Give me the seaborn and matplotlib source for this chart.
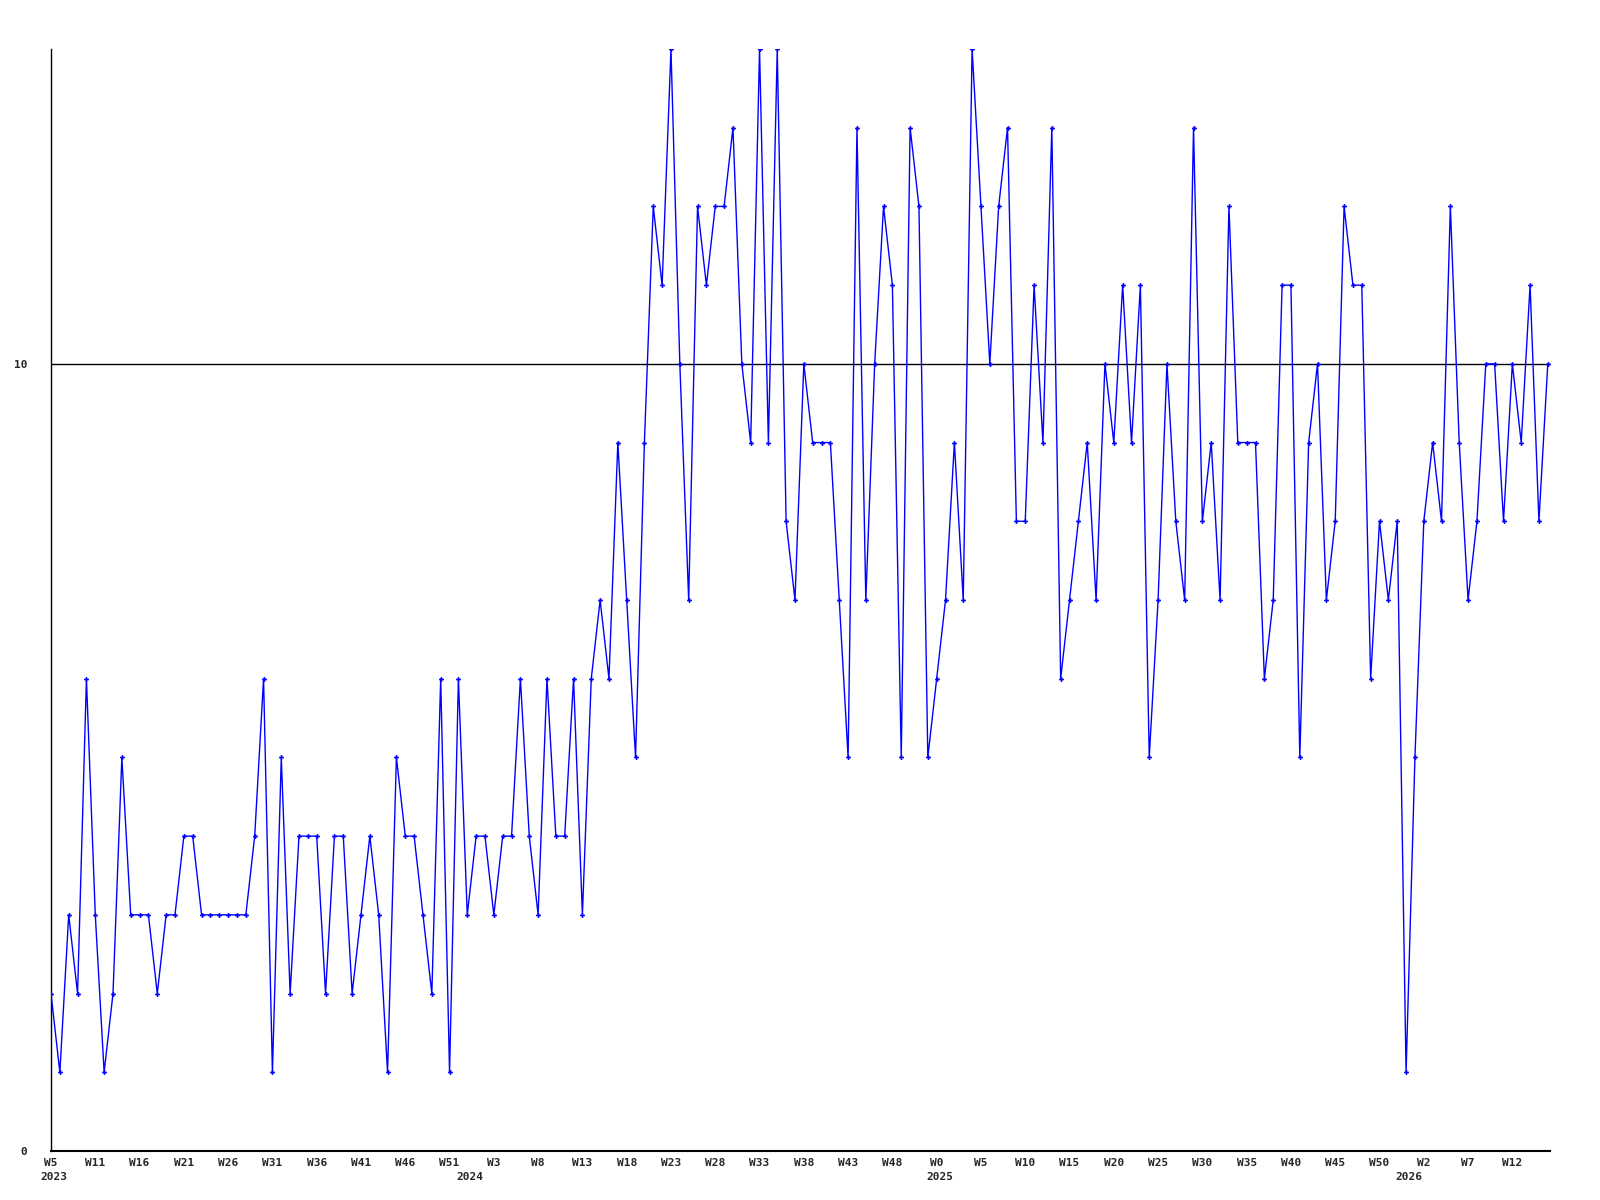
import matplotlib
matplotlib.use("Agg")

import matplotlib.pyplot as plt
import matplotlib.transforms as mtransforms
import numpy as np
import seaborn as sns

# weekly counts, one per week starting 2023 W5
counts = [
    2, 1, 3, 2, 6, 3, 1, 2, 5, 3, 3, 3, 2, 3, 3, 4, 4, 3, 3, 3,
    3, 3, 3, 4, 6, 1, 5, 2, 4, 4, 4, 2, 4, 4, 2, 3, 4, 3, 1, 5,
    4, 4, 3, 2, 6, 1, 6, 3, 4, 4, 3, 4, 4, 6, 4, 3, 6, 4, 4, 6,
    3, 6, 7, 6, 9, 7, 5, 9, 12, 11, 14, 10, 7, 12, 11, 12, 12, 13, 10, 9,
    14, 9, 14, 8, 7, 10, 9, 9, 9, 7, 5, 13, 7, 10, 12, 11, 5, 13, 12, 5,
    6, 7, 9, 7, 14, 12, 10, 12, 13, 8, 8, 11, 9, 13, 6, 7, 8, 9, 7, 10,
    9, 11, 9, 11, 5, 7, 10, 8, 7, 13, 8, 9, 7, 12, 9, 9, 9, 6, 7, 11,
    11, 5, 9, 10, 7, 8, 12, 11, 11, 6, 8, 7, 8, 1, 5, 8, 9, 8, 12, 9,
    7, 8, 10, 10, 8, 10, 9, 11, 8, 10,
]

week_labels = [
    "W5", "W11", "W16", "W21", "W26", "W31", "W36", "W41", "W46", "W51",
    "W3", "W8", "W13", "W18", "W23", "W28", "W33", "W38", "W43", "W48",
    "W0", "W5", "W10", "W15", "W20", "W25", "W30", "W35", "W40", "W45",
    "W50", "W2", "W7", "W12",
]
year_labels = ["2023", "2024", "2025", "2026"]
year_idx = [0, 47, 100, 153]

y_labels = ["0", "10"]
y_ticks = [0, 10]

x = np.arange(len(counts))

sns.set_style("white")
plt.rcParams["font.family"] = ["DejaVu Sans Mono", "DejaVu Sans"]
plt.rcParams["font.weight"] = "bold"

fig = plt.figure(figsize=(16, 12), dpi=100)
ax = fig.add_axes([51 / 1600, 49 / 1200, 1499 / 1600, 1102 / 1200])

ax.axhline(10, color="black", lw=1, zorder=1)
sns.lineplot(x=x, y=counts, ax=ax, color="#0000ff", lw=1,
             marker="P", markersize=3.5, markeredgewidth=0, zorder=3)

ax.set_xlim(0, len(counts) - 1 + 0.25)
ax.set_ylim(0, 14)

shift = mtransforms.ScaledTranslation(-3 / 100, 0, fig.dpi_scale_trans)
ax.set_xticks(np.arange(len(week_labels)) * 5)
ax.set_xticklabels(week_labels, fontsize=8, fontweight="bold")
for lbl in ax.get_xticklabels():
    lbl.set_transform(lbl.get_transform() + shift)
ax.tick_params(axis="x", length=0, pad=5)

# year row under the week labels
left_shift = mtransforms.ScaledTranslation(-10.5 / 100, 0, fig.dpi_scale_trans)
trans = mtransforms.blended_transform_factory(ax.transData, ax.transAxes) + left_shift
for pos, yr in zip(year_idx, year_labels):
    ax.text(pos, -26 / 1102, yr, transform=trans, ha="left", va="center",
            fontsize=8, fontweight="bold")

ax.set_yticks(y_ticks)
ax.set_yticklabels(y_labels, fontsize=8, fontweight="bold")
ax.tick_params(axis="y", length=0, pad=17)

for side in ["top", "right"]:
    ax.spines[side].set_visible(False)
ax.spines["left"].set_color("black")
ax.spines["left"].set_linewidth(1)
ax.spines["bottom"].set_color("black")
ax.spines["bottom"].set_linewidth(1.5)

ax.set_xlabel("")
ax.set_ylabel("")
ax.grid(False)

plt.savefig("out.png", dpi=100)
plt.close()
